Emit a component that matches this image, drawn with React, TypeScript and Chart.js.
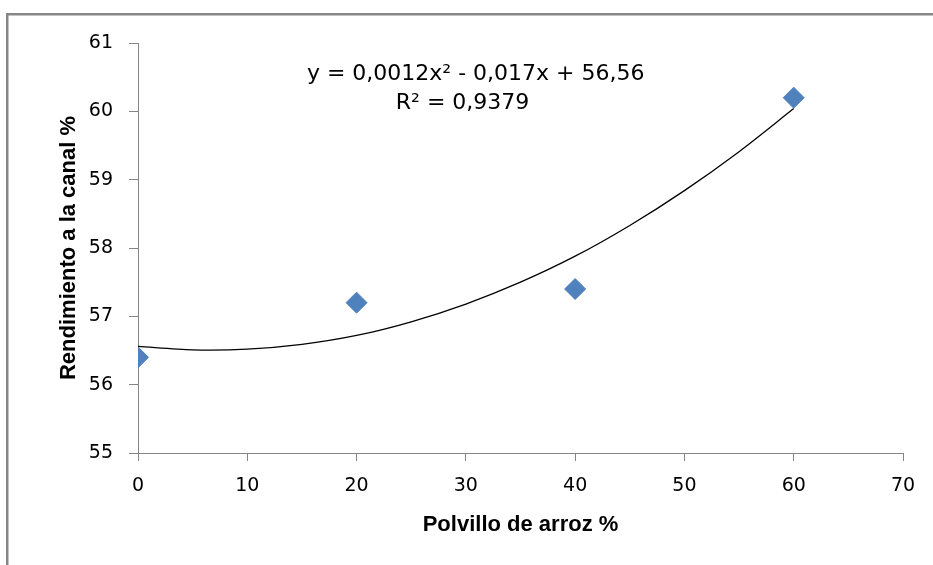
import React, { useEffect, useRef } from "react";
import { Chart, registerables } from "chart.js";

Chart.register(...registerables);

// ---- data ----
const polvillo = [0, 20, 40, 60];
const rendimiento = [56.4, 57.2, 57.4, 60.2];

// polynomial trendline
const trendX = [0, 5, 10, 15, 20, 25, 30, 35, 40, 45, 50, 55, 60];
const trendY = [56.56, 56.51, 56.52, 56.59, 56.72, 56.92, 57.18, 57.5, 57.88, 58.33, 58.84, 59.41, 60.04];

const xTickValues = [0, 10, 20, 30, 40, 50, 60, 70];
const yTickValues = [55, 56, 57, 58, 59, 60, 61];

const equationLines = ["y = 0,0012x² - 0,017x + 56,56", "R² = 0,9379"];
const equationX = [30.9, 29.7];
const equationY = [60.54, 60.12];

const xTitle = "Polvillo de arroz %";
const yTitle = "Rendimiento a la canal %";

const FONT = '"DejaVu Sans", "Liberation Sans", sans-serif';
const TITLE_FONT = '"Liberation Sans", Arial, sans-serif';
const AXIS_GRAY = "#868686";
const MARKER = "#4F81BD";

const framePlugin = {
  id: "frameAndEquation",
  beforeDraw(chart: any) {
    const { ctx, width, height } = chart;
    ctx.save();
    ctx.fillStyle = "#ffffff";
    ctx.fillRect(0, 0, width, height);
    ctx.fillStyle = "#878787";
    ctx.fillRect(6, 13, width - 6, 2.5);
    ctx.fillRect(6, 13, 2.5, height - 13);
    ctx.restore();
  },
  afterDraw(chart: any) {
    const { ctx } = chart;
    const xs = chart.scales.x;
    const ys = chart.scales.y;
    ctx.save();
    ctx.font = `22px ${FONT}`;
    ctx.fillStyle = "#000000";
    ctx.textAlign = "center";
    ctx.textBaseline = "middle";
    equationLines.forEach((line, i) => {
      ctx.fillText(line, xs.getPixelForValue(equationX[i]), ys.getPixelForValue(equationY[i]));
    });
    ctx.restore();
  },
};

export default function App() {
  const canvasRef = useRef<HTMLCanvasElement | null>(null);

  useEffect(() => {
    const canvas = canvasRef.current;
    if (!canvas) return;
    const chart = new Chart(canvas, {
      type: "scatter",
      data: {
        datasets: [
          {
            label: "Tendencia",
            data: trendX.map((x, i) => ({ x, y: trendY[i] })),
            showLine: true,
            borderColor: "#000000",
            borderWidth: 1.3,
            pointRadius: 0,
            pointHoverRadius: 0,
            tension: 0.3,
            fill: false,
            order: 0,
          },
          {
            label: "Rendimiento",
            data: polvillo.map((x, i) => ({ x, y: rendimiento[i] })),
            pointStyle: "rectRot",
            pointRadius: 10.5,
            pointHoverRadius: 10.5,
            backgroundColor: MARKER,
            borderColor: MARKER,
            borderWidth: 1,
            order: 1,
          },
        ],
      },
      options: {
        responsive: false,
        animation: false,
        events: [],
        layout: { padding: { left: 0, top: 43, right: 30, bottom: 0 } },
        plugins: {
          legend: { display: false },
          tooltip: { enabled: false },
          title: { display: false },
        },
        scales: {
          x: {
            type: "linear",
            min: xTickValues[0],
            max: xTickValues[xTickValues.length - 1],
            afterFit: (scale: any) => {
              scale.height = 112;
            },
            ticks: {
              stepSize: xTickValues[1] - xTickValues[0],
              padding: 14,
              color: "#000000",
              font: { family: FONT, size: 19 },
            },
            grid: {
              display: true,
              drawOnChartArea: false,
              drawTicks: true,
              tickLength: 8,
              color: AXIS_GRAY,
              lineWidth: 1,
            },
            border: { display: true, color: AXIS_GRAY, width: 1 },
            title: {
              display: true,
              text: xTitle,
              color: "#000000",
              font: { family: TITLE_FONT, size: 22, weight: "bold" },
              padding: { top: 0, bottom: 27 },
            },
          },
          y: {
            type: "linear",
            min: yTickValues[0],
            max: yTickValues[yTickValues.length - 1],
            afterFit: (scale: any) => {
              scale.width = 138;
            },
            ticks: {
              stepSize: yTickValues[1] - yTickValues[0],
              padding: 16,
              color: "#000000",
              font: { family: FONT, size: 19 },
            },
            grid: {
              display: true,
              drawOnChartArea: false,
              drawTicks: true,
              tickLength: 9,
              color: AXIS_GRAY,
              lineWidth: 1,
            },
            border: { display: true, color: AXIS_GRAY, width: 1 },
            title: {
              display: true,
              text: yTitle,
              color: "#000000",
              font: { family: TITLE_FONT, size: 22, weight: "bold" },
              padding: { top: 56, bottom: 0 },
            },
          },
        },
      },
      plugins: [framePlugin],
    });
    return () => chart.destroy();
  }, []);

  return (
    <div style={{ position: "absolute", left: 0, top: 0, width: 933, height: 565, background: "#fff" }}>
      <canvas ref={canvasRef} width={933} height={565} style={{ display: "block" }} />
    </div>
  );
}
